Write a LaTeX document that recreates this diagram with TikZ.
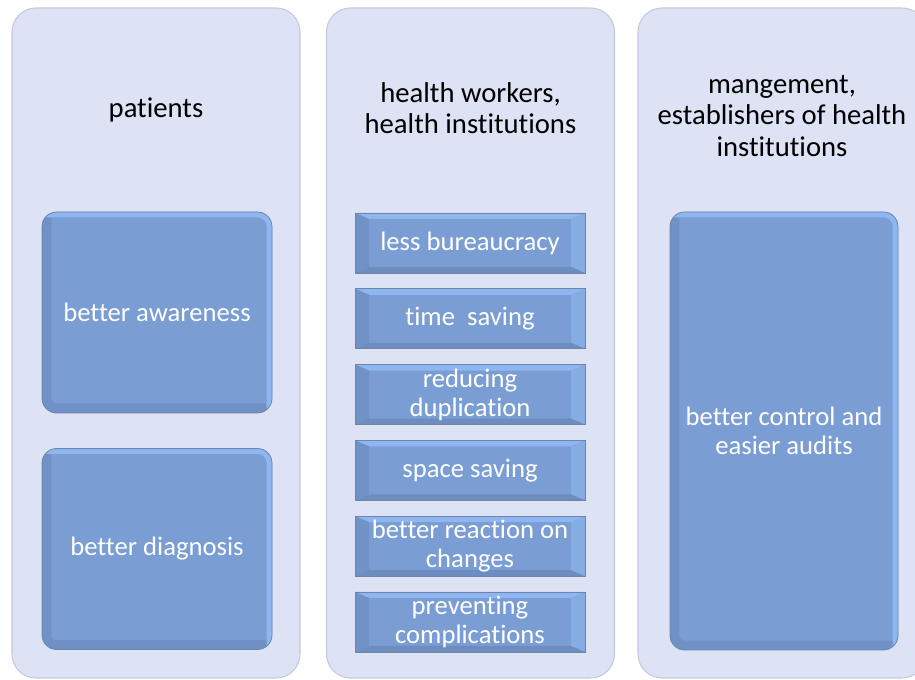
\documentclass[tikz,border=0pt]{standalone}
\usepackage{fontspec}
\setmainfont{Carlito}[Ligatures=NoCommon]
\usetikzlibrary{positioning}

\definecolor{panelbg}{RGB}{221,226,244}
\definecolor{paneledge}{RGB}{196,201,222}
\definecolor{boxfill}{RGB}{122,157,211}
\definecolor{boxlight}{RGB}{142,182,240}
\definecolor{boxdark}{RGB}{104,134,184}

\begin{document}
\begin{tikzpicture}[x=0.75pt,y=-0.75pt,
    panel/.style={draw=paneledge, line width=0.8pt, fill=panelbg,
      rounded corners=18pt, minimum width=216pt, minimum height=502.5pt},
    heading/.style={align=center, text=black,
      font=\fontsize{21.5}{23.5}\selectfont},
    boxtext/.style={align=center, text=white,
      font=\fontsize{20}{21.5}\selectfont},
    bigbox/.style={boxtext, fill=boxfill, draw=boxdark!80!gray,
      line width=0.6pt, rounded corners=11pt, minimum width=172.5pt,
      path picture={
        \draw[boxdark, line width=14pt, opacity=0.5]
          (path picture bounding box.north west) --
          (path picture bounding box.south west) --
          (path picture bounding box.south east);
        \draw[boxlight, line width=8pt]
          (path picture bounding box.north west) --
          (path picture bounding box.north east) --
          (path picture bounding box.south east);
      }},
    bevelbox/.style={boxtext, fill=boxfill, draw=boxdark!70!gray,
      line width=0.6pt, inner sep=0pt, minimum width=172.5pt,
      minimum height=45pt,
      path picture={
        % top, left, right and bottom facets
        \fill[boxlight]
          (path picture bounding box.north west) --
          (path picture bounding box.north east) --
          ([shift={(-14,6)}]path picture bounding box.north east) --
          ([shift={(14,6)}]path picture bounding box.north west) -- cycle;
        \fill[boxdark!50!boxfill]
          (path picture bounding box.north west) --
          ([shift={(14,6)}]path picture bounding box.north west) --
          ([shift={(14,-6)}]path picture bounding box.south west) --
          (path picture bounding box.south west) -- cycle;
        \fill[boxlight!60!boxfill]
          (path picture bounding box.north east) --
          ([shift={(-14,6)}]path picture bounding box.north east) --
          ([shift={(-14,-6)}]path picture bounding box.south east) --
          (path picture bounding box.south east) -- cycle;
        \fill[boxdark!70!boxfill]
          (path picture bounding box.south west) --
          ([shift={(14,-6)}]path picture bounding box.south west) --
          ([shift={(-14,-6)}]path picture bounding box.south east) --
          (path picture bounding box.south east) -- cycle;
      }}]
  \clip (0,0) rectangle (915,680);
  \fill[white] (0,0) rectangle (915,680);

  % the three groups
  \node[panel] (pat) at (156,343) {};
  \node[panel] (work) at (470.5,343) {};
  \node[panel] (mgmt) at (782,343) {};

  \node[heading] (pat-t) at (156,110) {patients};
  \node[heading] (work-t) at (470.5,108) {health workers,\\health institutions};
  \node[heading] (mgmt-t) at (782,116) {mangement,\\establishers of health\\institutions};

  % patients
  \node[bigbox, minimum height=150.75pt] (aware) at (157,312.5) {better awareness};
  \node[bigbox, minimum height=150.75pt] (diag) at (157,549) {better diagnosis};

  % health workers
  \node[bevelbox] (bureau) at (470,243) {less bureaucracy};
  \node[bevelbox, below=11.25pt of bureau] (time) {time\ \ saving};
  \node[bevelbox, below=11.25pt of time] (dupl) {reducing\\duplication};
  \node[bevelbox, below=11.25pt of dupl] (space) {space saving};
  \node[bevelbox, below=11.25pt of space] (react) {better reaction on\\changes};
  \node[bevelbox, below=11.25pt of react] (prev) {preventing\\complications};

  % management
  \node[bigbox, minimum width=171pt, minimum height=328.5pt] (ctrl) at (784,431)
    {better control and\\easier audits};
\end{tikzpicture}
\end{document}
